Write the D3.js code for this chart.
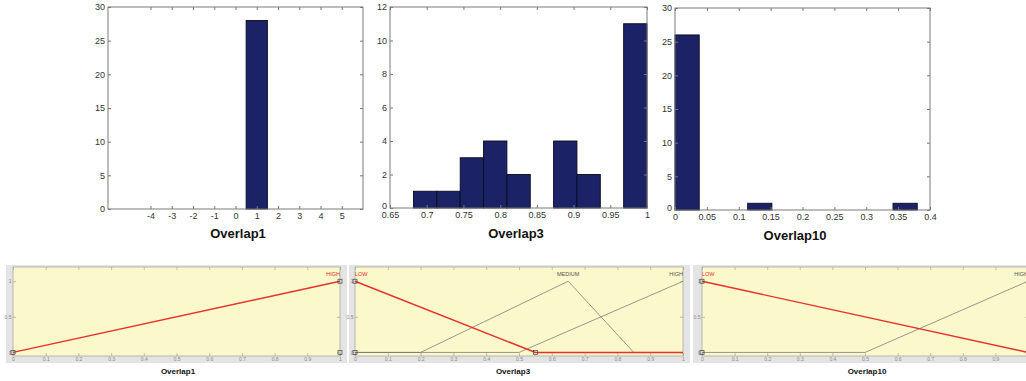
<!DOCTYPE html>
<html>
<head>
<meta charset="utf-8">
<script src="https://cdn.jsdelivr.net/npm/d3@7"></script>
<style>
  body { margin: 0; background: #fff; }
  svg { display: block; font-family: Arial, "Liberation Sans", sans-serif; }
</style>
</head>
<body>
<script>
// histogram data (bin start, bin width, counts)
var overlap1Centers = [-4, -3, -2, -1, 0, 1, 2, 3, 4, 5];
var overlap1Counts = [0, 0, 0, 0, 0, 28, 0, 0, 0, 0];
var overlap3Start = 0.682, overlap3Width = 0.0318;
var overlap3Counts = [1, 1, 3, 4, 2, 0, 4, 2, 0, 11];
var overlap10Start = 0, overlap10Width = 0.038;
var overlap10Counts = [26, 0, 0, 1, 0, 0, 0, 0, 0, 1];

var ticks1X = [-4, -3, -2, -1, 0, 1, 2, 3, 4, 5];
var ticks3X = [0.65, 0.7, 0.75, 0.8, 0.85, 0.9, 0.95, 1];
var ticks10X = [0, 0.05, 0.1, 0.15, 0.2, 0.25, 0.3, 0.35, 0.4];
var ticks30Y = [0, 5, 10, 15, 20, 25, 30];
var ticks12Y = [0, 2, 4, 6, 8, 10, 12];

// membership functions: curve points and edit handles (x, y)
var mf1 = [
  { name: "HIGH", pts: [[0, 0], [1, 1]], handles: [[0, 0], [1, 1], [1, 0]], sel: true }
];
var mf3 = [
  { name: "LOW", pts: [[0, 1], [0.55, 0], [1, 0]], handles: [[0, 0], [0, 1], [0.55, 0]], sel: true },
  { name: "MEDIUM", pts: [[0, 0], [0.2, 0], [0.65, 1], [0.85, 0], [1, 0]], sel: false },
  { name: "HIGH", pts: [[0, 0], [0.5, 0], [1, 1]], sel: false }
];
var mf10 = [
  { name: "LOW", pts: [[0, 1], [1, 0]], handles: [[0, 0], [0, 1]], sel: true },
  { name: "HIGH", pts: [[0, 0], [0.5, 0], [1, 1]], sel: false }
];
var mfTicksX = [0, 0.1, 0.2, 0.3, 0.4, 0.5, 0.6, 0.7, 0.8, 0.9, 1];
var mfTicksY = [0, 0.5, 1];

var W = 1026, H = 381;
var svg = d3.select("body").append("svg").attr("width", W).attr("height", H);

function fmt(d) { return String(+d.toFixed(3)); }

function drawHist(o) {
  var x = d3.scaleLinear().domain(o.xDomain).range([o.left, o.right]);
  var y = d3.scaleLinear().domain(o.yDomain).range([o.bottom, o.top]);
  var g = svg.append("g");

  g.selectAll("rect.bar")
    .data(o.bins.filter(function (b) { return b.count > 0; }))
    .enter().append("rect")
    .attr("class", "bar")
    .attr("x", function (b) { return x(b.x0); })
    .attr("width", function (b) { return x(b.x1) - x(b.x0); })
    .attr("y", function (b) { return y(b.count); })
    .attr("height", function (b) { return y(0) - y(b.count); })
    .attr("fill", "#1b2366")
    .attr("stroke", "#0a0a1e")
    .attr("stroke-width", 0.9);

  var axes = [
    [d3.axisBottom(x).tickValues(o.xTicks).tickFormat(fmt), "translate(0," + o.bottom + ")"],
    [d3.axisTop(x).tickValues(o.xTicks).tickFormat(""), "translate(0," + o.top + ")"],
    [d3.axisLeft(y).tickValues(o.yTicks).tickFormat(fmt), "translate(" + o.left + ",0)"],
    [d3.axisRight(y).tickValues(o.yTicks).tickFormat(""), "translate(" + o.right + ",0)"]
  ];
  axes.forEach(function (a, i) {
    var ax = g.append("g").attr("transform", a[1])
      .call(a[0].tickSize(-3).tickPadding(i == 0 ? 4 : 3));
    ax.select(".domain").remove();
    ax.selectAll("line").attr("stroke", "#777");
    ax.selectAll("text").attr("fill", "#333").style("font-size", "9px");
    if (i == 2 && o.liftZero) {
      // MATLAB nudges the zero label up so it clears the first x label
      ax.selectAll(".tick text").filter(function (d) { return d === 0; }).attr("dy", "0.05em");
    }
  });

  g.append("rect")
    .attr("x", o.left).attr("y", o.top)
    .attr("width", o.right - o.left).attr("height", o.bottom - o.top)
    .attr("fill", "none").attr("stroke", "#7a7a7a").attr("stroke-width", 1);

  g.append("text")
    .attr("x", o.titleX).attr("y", o.titleY)
    .attr("text-anchor", "middle").attr("dy", "0.35em")
    .style("font-size", "13px").style("font-weight", "bold").attr("fill", "#111")
    .text(o.title);
}

function binsFromStart(start, width, counts) {
  return counts.map(function (c, i) {
    return { x0: start + i * width, x1: start + (i + 1) * width, count: c };
  });
}

drawHist({
  left: 108, right: 363, top: 7, bottom: 209,
  xDomain: [-6, 6], yDomain: [0, 30], xTicks: ticks1X, yTicks: ticks30Y,
  bins: overlap1Centers.map(function (c, i) {
    return { x0: c - 0.5, x1: c + 0.5, count: overlap1Counts[i] };
  }),
  title: "Overlap1", titleX: 238, titleY: 233
});
drawHist({
  left: 390, right: 647, top: 7, bottom: 208,
  xDomain: [0.65, 1], yDomain: [0, 12], xTicks: ticks3X, yTicks: ticks12Y,
  bins: binsFromStart(overlap3Start, overlap3Width, overlap3Counts),
  title: "Overlap3", titleX: 516, titleY: 233, liftZero: true
});
drawHist({
  left: 675, right: 930, top: 8, bottom: 210,
  xDomain: [0, 0.4], yDomain: [0, 30], xTicks: ticks10X, yTicks: ticks30Y,
  bins: binsFromStart(overlap10Start, overlap10Width, overlap10Counts),
  title: "Overlap10", titleX: 795, titleY: 235, liftZero: true
});

// membership function panels
function drawMF(o) {
  var x = d3.scaleLinear().domain([0, 1]).range([o.left, o.right]);
  var y = d3.scaleLinear().domain([-0.05, 1.2]).range([356, 267]);
  var g = svg.append("g");

  g.append("rect")
    .attr("x", o.frameL).attr("y", 265)
    .attr("width", o.frameR - o.frameL).attr("height", 98)
    .attr("fill", "#e4e4e4");
  g.append("rect")
    .attr("x", o.left).attr("y", y(1.2))
    .attr("width", x(1) - x(0)).attr("height", y(-0.05) - y(1.2))
    .attr("fill", "#fbf8cb").attr("stroke", "#a8a8a8").attr("stroke-width", 0.8);

  var axes = [
    [d3.axisBottom(x).tickValues(mfTicksX).tickFormat(fmt), "translate(0," + y(-0.05) + ")"],
    [d3.axisTop(x).tickValues(mfTicksX).tickFormat(""), "translate(0," + y(1.2) + ")"],
    [d3.axisLeft(y).tickValues(mfTicksY).tickFormat(fmt), "translate(" + x(0) + ",0)"],
    [d3.axisRight(y).tickValues(mfTicksY).tickFormat(""), "translate(" + x(1) + ",0)"]
  ];
  axes.forEach(function (a) {
    var ax = g.append("g").attr("transform", a[1])
      .call(a[0].tickSize(-3).tickPadding(1.5));
    ax.select(".domain").remove();
    ax.selectAll("line").attr("stroke", "#9a9a9a").attr("stroke-width", 0.6);
    ax.selectAll("text").attr("fill", "#8a8a8a").style("font-size", "5px");
  });

  var line = d3.line().x(function (p) { return x(p[0]); }).y(function (p) { return y(p[1]); });
  var ordered = o.mfs.filter(function (m) { return !m.sel; }).concat(o.mfs.filter(function (m) { return m.sel; }));
  ordered.forEach(function (m) {
    g.append("path").attr("d", line(m.pts)).attr("fill", "none")
      .attr("stroke", m.sel ? "#e8302c" : "#6e6e6e")
      .attr("stroke-width", m.sel ? 1.4 : 0.7);
    if (m.handles) {
      g.selectAll(null).data(m.handles).enter().append("rect")
        .attr("x", function (p) { return x(p[0]) - 2; })
        .attr("y", function (p) { return y(p[1]) - 2; })
        .attr("width", 4).attr("height", 4)
        .attr("fill", "none").attr("stroke", "#444").attr("stroke-width", 0.7);
    }
    var peak = m.pts.reduce(function (a, b) { return b[1] > a[1] ? b : a; });
    var anchor = peak[0] <= 0 ? "start" : (peak[0] >= 1 ? "end" : "middle");
    g.append("text")
      .attr("x", x(peak[0])).attr("y", y(1.1))
      .attr("text-anchor", anchor).attr("dy", "0.35em")
      .style("font-size", "5.5px")
      .attr("fill", m.sel ? "#e8302c" : "#555")
      .text(m.name);
  });

  g.append("text")
    .attr("x", o.titleX).attr("y", 371)
    .attr("text-anchor", "middle").attr("dy", "0.35em")
    .style("font-size", "8px").style("font-weight", "bold").attr("fill", "#111")
    .text(o.title);
}

drawMF({ left: 13, right: 340, frameL: 6, frameR: 347, mfs: mf1, title: "Overlap1", titleX: 178 });
drawMF({ left: 355, right: 683, frameL: 349, frameR: 690, mfs: mf3, title: "Overlap3", titleX: 513 });
drawMF({ left: 702, right: 1028, frameL: 693, frameR: 1040, mfs: mf10, title: "Overlap10", titleX: 867 });
</script>
</body>
</html>
